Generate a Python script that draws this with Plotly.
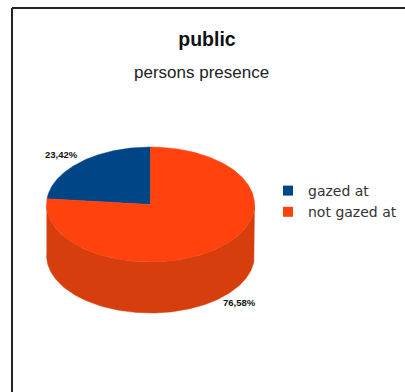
import numpy as np
import plotly.graph_objects as go

# ---- data ----
categories = ["gazed at", "not gazed at"]
values = [23.42, 76.58]
title_text = "public"
subtitle_text = "persons presence"

# ---- styles / geometry (pixel space) ----
W, H = 405, 392
top_colors = ["#004586", "#ff420e"]
side_colors = ["#00305e", "#d63e0e"]
cx, cy, rx, ry, depth = 150.5, 204.5, 104.0, 57.5, 51.0


def pt(phi_deg):
    """Point on top ellipse; angle measured counter-clockwise from 12 o'clock."""
    r = np.radians(phi_deg)
    return cx - rx * np.sin(r), cy - ry * np.cos(r)


total = float(sum(values))
slices = []
start = 0.0
for cat, v in zip(categories, values):
    end = start + 360.0 * v / total
    slices.append((cat, v, start, end))
    start = end

fig = go.Figure()

# side walls (visible front half: 90..270 degrees)
for (cat, v, a0, a1), sc in zip(slices, side_colors):
    lo, hi = max(a0, 90.0), min(a1, 270.0)
    if lo < hi:
        phis = np.linspace(lo, hi, 200)
        xs, ys = pt(phis)
        X = np.concatenate([xs, xs[::-1]])
        Y = np.concatenate([ys, ys[::-1] + depth])
        fig.add_trace(go.Scatter(x=X, y=Y, mode="lines", fill="toself",
                                 fillcolor=sc, line=dict(width=0.5, color=sc),
                                 hoverinfo="skip", showlegend=False))

# top faces
for (cat, v, a0, a1), c in zip(slices, top_colors):
    phis = np.linspace(a0, a1, 300)
    xs, ys = pt(phis)
    X = np.concatenate([[cx], xs, [cx]])
    Y = np.concatenate([[cy], ys, [cy]])
    fig.add_trace(go.Scatter(x=X, y=Y, mode="lines", fill="toself",
                             fillcolor=c, line=dict(width=0.5, color=c),
                             name=cat, hoverinfo="name", showlegend=False))

# legend entries
for cat, c in zip(categories, top_colors):
    fig.add_trace(go.Scatter(x=[None], y=[None], mode="markers", name=cat,
                             marker=dict(symbol="square", size=10, color=c)))

# percentage labels
label_pos = [(61, 154), (239, 302)]
for (cat, v, a0, a1), (lx, ly) in zip(slices, label_pos):
    fig.add_annotation(x=lx, y=ly, xref="x", yref="y", showarrow=False,
                       text="<b>" + f"{v / total * 100:.2f}%".replace(".", ",") + "</b>",
                       font=dict(family="Liberation Sans Narrow, Liberation Sans, Arial",
                                 size=9.5, color="#111111"))

fig.add_annotation(x=201 / W, y=1 - 72 / H, xref="paper", yref="paper",
                   xanchor="center", yanchor="middle",
                   showarrow=False, text=subtitle_text,
                   font=dict(family="Liberation Sans, Arial", size=17, color="#222222"))

fig.update_layout(
    width=W, height=H,
    margin=dict(l=0, r=0, t=0, b=0),
    paper_bgcolor="white", plot_bgcolor="white",
    title=dict(text="<b>" + title_text + "</b>", x=207 / W, xanchor="center",
               y=1 - 39 / H, yanchor="middle",
               font=dict(family="Liberation Sans, Arial", size=19.5, color="#111111")),
    xaxis=dict(range=[0, W], visible=False, fixedrange=True),
    yaxis=dict(range=[H, 0], visible=False, fixedrange=True),
    legend=dict(x=268 / W, y=1 - 175 / H, xanchor="left", yanchor="top",
                font=dict(family="DejaVu Sans", size=14, color="#333333"),
                bgcolor="rgba(0,0,0,0)", tracegroupgap=0),
    showlegend=True,
    shapes=[
        dict(type="line", xref="paper", yref="paper", x0=12 / W, x1=12 / W,
             y0=1 - 8 / H, y1=0, line=dict(color="#222222", width=2)),
        dict(type="line", xref="paper", yref="paper", x0=12 / W, x1=1,
             y0=1 - 8 / H, y1=1 - 8 / H, line=dict(color="#222222", width=2)),
    ],
)

fig.write_html("out.html", config={"displayModeBar": False},
               post_script="document.body.style.margin='0';")
